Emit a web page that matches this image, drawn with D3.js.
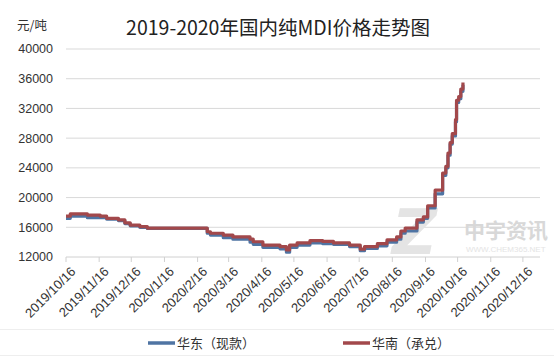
<!DOCTYPE html>
<html>
<head>
<meta charset="utf-8">
<script src="https://cdn.jsdelivr.net/npm/d3@7"></script>
<style>
  html, body { margin: 0; padding: 0; background: #fff; }
  svg { display: block; font-family: "Noto Sans CJK SC", "Liberation Sans", sans-serif; }
</style>
</head>
<body>
<div id="chart"></div>
<script>
// ---- data ----
const dates = [
  "2019-10-16", "2019-10-20", "2019-11-05", "2019-11-17", "2019-11-23", "2019-12-04",
  "2019-12-10", "2019-12-15", "2019-12-24", "2019-12-31", "2020-02-25", "2020-02-28",
  "2020-03-11", "2020-03-20", "2020-04-05", "2020-04-08", "2020-04-17", "2020-05-03",
  "2020-05-09", "2020-05-12", "2020-05-19", "2020-05-31", "2020-06-12", "2020-06-22",
  "2020-07-07", "2020-07-17", "2020-07-21", "2020-08-02", "2020-08-11", "2020-08-20",
  "2020-08-24", "2020-08-28", "2020-09-08", "2020-09-14", "2020-09-18", "2020-09-25",
  "2020-10-02", "2020-10-05", "2020-10-07", "2020-10-09", "2020-10-11", "2020-10-14",
  "2020-10-15", "2020-10-17", "2020-10-19", "2020-10-21"
];
const eastCash = [ // 华东（现款）
  17200, 17500, 17300, 17300, 17100, 16900,
  16500, 16200, 16000, 15850, 15200, 14950,
  14600, 14400, 14000, 13700, 13300, 13100,
  12650, 13300, 13600, 13900, 13800, 13700,
  13400, 12850, 13150, 13500, 14000, 14400,
  15200, 15500, 16700, 17200, 18600, 20500,
  23000, 24000, 25700, 27200, 28300, 30200,
  32800, 33300, 34300, 35200
];
const southAccept = [ // 华南（承兑）
  17500, 17800, 17650, 17500, 17200, 17000,
  16600, 16300, 16100, 15900, 15400, 15200,
  14950, 14700, 14400, 14050, 13600, 13400,
  12950, 13600, 13900, 14200, 14100, 13900,
  13600, 13050, 13400, 13800, 14300, 14700,
  15500, 15900, 17000, 17400, 18900, 21000,
  23300, 24200, 26000, 27400, 28600, 30500,
  33100, 33600, 34600, 35500
];
const tickDates = [
  "2019-10-16", "2019-11-16", "2019-12-16", "2020-01-16", "2020-02-16", "2020-03-16",
  "2020-04-16", "2020-05-16", "2020-06-16", "2020-07-16", "2020-08-16", "2020-09-16",
  "2020-10-16", "2020-11-16", "2020-12-16"
];
const yTicks = [12000, 16000, 20000, 24000, 28000, 32000, 36000, 40000];
const seriesNames = ["华东（现款）", "华南（承兑）"];
const colors = ["#4f74a3", "#a2484b"];

// ---- layout ----
const width = 554, height = 364;
const parse = d3.timeParse("%Y-%m-%d");
const fmt = d3.timeFormat("%Y/%-m/%-d");

const svg = d3.select("#chart").append("svg")
  .attr("width", width)
  .attr("height", height);

const x = d3.scaleTime()
  .domain([parse("2019-10-16"), parse("2021-01-01")])
  .range([66, 540]);
const y = d3.scaleLinear()
  .domain([12000, 40000])
  .range([257, 49]);

// title
svg.append("text")
  .attr("x", 278).attr("y", 35)
  .attr("text-anchor", "middle")
  .style("font-size", "19.5px")
  .attr("fill", "#222")
  .text("2019-2020年国内纯MDI价格走势图");

svg.append("text")
  .attr("x", 17).attr("y", 30)
  .style("font-size", "12.5px")
  .attr("fill", "#333")
  .text("元/吨");

// gridlines
svg.append("g")
  .selectAll("line")
  .data(yTicks.slice(1))
  .join("line")
  .attr("x1", x.range()[0]).attr("x2", x.range()[1])
  .attr("y1", d => y(d)).attr("y2", d => y(d))
  .attr("stroke", "#d9d9d9")
  .attr("stroke-width", 1);

// y axis labels
svg.append("g")
  .selectAll("text")
  .data(yTicks)
  .join("text")
  .attr("x", 53)
  .attr("y", d => y(d))
  .attr("dy", "0.35em")
  .attr("text-anchor", "end")
  .style("font-family", "'Liberation Sans', sans-serif")
  .style("font-size", "12.5px")
  .attr("fill", "#333")
  .text(d => d);

// x axis
const xAxis = svg.append("g").attr("transform", `translate(0, ${y(12000)})`);
xAxis.append("line")
  .attr("x1", x.range()[0]).attr("x2", x.range()[1])
  .attr("stroke", "#d0d0d0");
xAxis.selectAll("line.tick")
  .data(tickDates.map(parse))
  .join("line")
  .attr("class", "tick")
  .attr("x1", d => x(d)).attr("x2", d => x(d))
  .attr("y1", 0).attr("y2", 5)
  .attr("stroke", "#d0d0d0");
xAxis.selectAll("text")
  .data(tickDates.map(parse))
  .join("text")
  .attr("transform", d => `translate(${x(d) + 4}, 9) rotate(-45)`)
  .attr("text-anchor", "end")
  .attr("dy", "0.7em")
  .style("font-family", "'Liberation Sans', sans-serif")
  .style("font-size", "13px")
  .attr("fill", "#333")
  .text(d => fmt(d));

// watermark
const wm = svg.append("g").attr("fill", "#e4e4e4");
wm.append("text")
  .attr("x", 392).attr("y", 254)
  .style("font-family", "'DejaVu Sans', sans-serif")
  .style("font-size", "62px")
  .style("font-weight", "bold")
  .style("font-style", "italic")
  .text("Z");
wm.append("text")
  .attr("x", 464).attr("y", 238)
  .style("font-size", "21px")
  .style("font-weight", "bold")
  .attr("fill", "#d8d8d8")
  .text("中宇资讯");
wm.append("text")
  .attr("x", 466).attr("y", 252)
  .style("font-family", "'Liberation Sans', sans-serif")
  .style("font-size", "8px")
  .text("WWW.CHEM365.NET");

// lines
const table = [eastCash, southAccept].map(vals =>
  dates.map((d, i) => ({ date: parse(d), value: vals[i] })));

const line = d3.line()
  .x(d => x(d.date))
  .y(d => y(d.value))
  .curve(d3.curveStepAfter);

svg.append("g")
  .selectAll("path")
  .data(table)
  .join("path")
  .attr("d", line)
  .attr("fill", "none")
  .attr("stroke", (d, i) => colors[i])
  .attr("stroke-width", 3.2)
  .attr("stroke-linejoin", "round");

// legend
svg.append("line")
  .attr("x1", 0).attr("x2", width)
  .attr("y1", 329.5).attr("y2", 329.5)
  .attr("stroke", "#eeeeee");
svg.append("line")
  .attr("x1", 0).attr("x2", width)
  .attr("y1", 355.5).attr("y2", 355.5)
  .attr("stroke", "#eeeeee");

const legend = svg.append("g");
[148, 343].forEach((lx, i) => {
  const g = legend.append("g").attr("transform", `translate(${lx}, 343)`);
  g.append("line")
    .attr("x1", 0).attr("x2", 27)
    .attr("stroke", colors[i])
    .attr("stroke-width", 3.5);
  g.append("text")
    .attr("x", 29)
    .attr("dy", "0.35em")
    .style("font-size", "13px")
    .attr("fill", "#333")
    .text(seriesNames[i]);
});
</script>
</body>
</html>
